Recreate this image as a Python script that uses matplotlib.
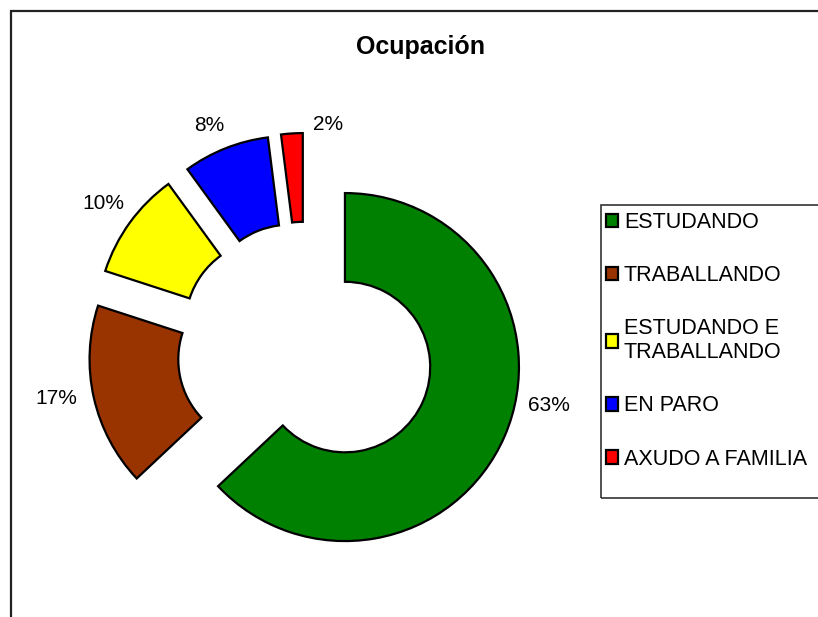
import numpy as np
import matplotlib
matplotlib.use("Agg")
import matplotlib.pyplot as plt
from matplotlib.patches import Rectangle

categories = ["ESTUDANDO", "TRABALLANDO", "ESTUDANDO E\nTRABALLANDO", "EN PARO", "AXUDO A FAMILIA"]
values = [63, 17, 10, 8, 2]
colors = ["#008000", "#993300", "#FFFF00", "#0000FF", "#FF0000"]
title = "Ocupación"

plt.rcParams['font.family'] = ['Liberation Sans', 'DejaVu Sans']

W, H = 818, 617
fig = plt.figure(figsize=(W / 100, H / 100), dpi=100)

# axes placed so that the pie centre and radius fall where the reference has them
cx, cy, R = 305.5, 350, 174
half = 1.5 * R
ax = fig.add_axes([(cx - half) / W, (H - cy - half) / H, 2 * half / W, 2 * half / H])
ax.set_xlim(-1.5, 1.5)
ax.set_ylim(-1.5, 1.5)
ax.axis('off')

wedges, _ = ax.pie(values, colors=colors, startangle=90, counterclock=False,
                   explode=[0.247] * len(values), radius=1,
                   wedgeprops=dict(width=0.51, edgecolor='black', linewidth=1.6),
                   frame=False)
ax.set_xlim(-1.5, 1.5)
ax.set_ylim(-1.5, 1.5)
ax.set_aspect('auto')

# percentage labels (outside end, slight per-slice adjustment like the original)
label_r = [1.19, 1.21, 1.19, 1.16, 1.06]
label_shift = [12.8, -2.0, 0.0, 2.0, -11.6]
total = sum(values)
for w, v, r, s in zip(wedges, values, label_r, label_shift):
    mid = np.deg2rad((w.theta1 + w.theta2) / 2 + s)
    x0, y0 = w.center
    ax.text(x0 + r * np.cos(mid), y0 + r * np.sin(mid), f"{round(100 * v / total)}%",
            ha='center', va='center', fontsize=15, color='black')

# title
fig.text(420.5 / W, 1 - 47 / H, title, ha='center', va='center',
         fontsize=18, fontweight='bold')

# figure frame (left and top visible, extends beyond right/bottom)
fig.add_artist(Rectangle((11 / W, -0.1), 1.2, (H - 11) / H + 0.1, transform=fig.transFigure,
                         fill=False, edgecolor='#222222', linewidth=1.6))

# legend frame
fig.add_artist(Rectangle((601 / W, 1 - 498 / H), 0.3, (498 - 205) / H, transform=fig.transFigure,
                         fill=False, edgecolor='#333333', linewidth=1.2))

leg = fig.legend(wedges, categories, loc='upper left',
                 bbox_to_anchor=(606 / W, 1 - 212 / H), frameon=False,
                 borderpad=0, borderaxespad=0, fontsize=15.5,
                 handlelength=0.58, handleheight=0.58, handletextpad=0.25,
                 labelspacing=1.49)

fig.savefig("out.png", dpi=100)
